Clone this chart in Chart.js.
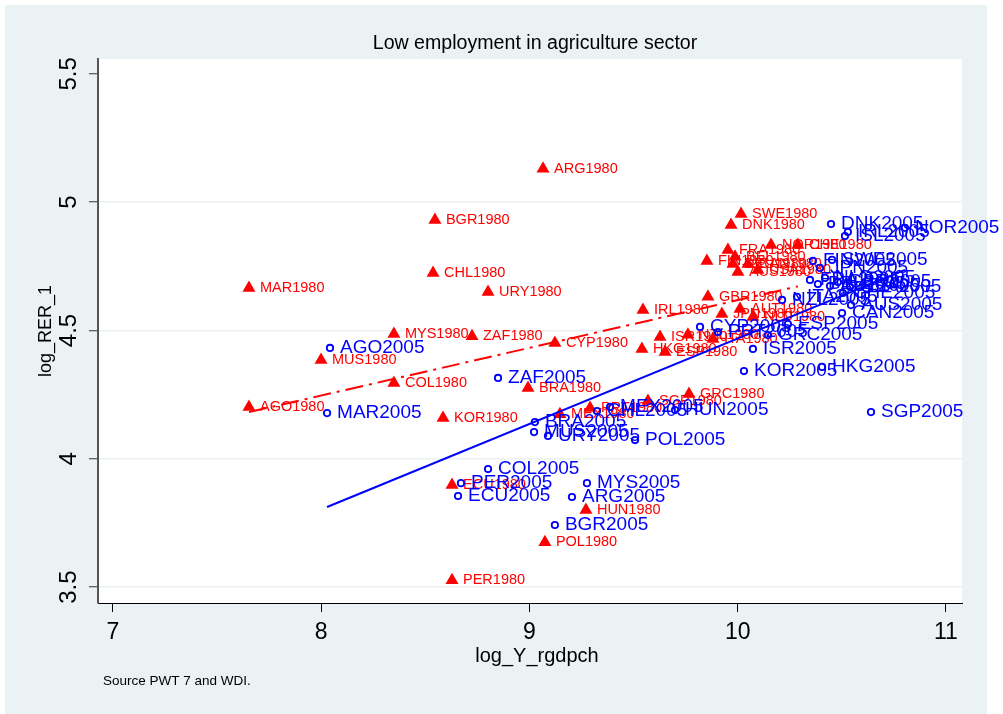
<!DOCTYPE html>
<html>
<head>
<meta charset="utf-8">
<title>Low employment in agriculture sector</title>
<script src="https://cdn.jsdelivr.net/npm/chart.js@4.4.0/dist/chart.umd.min.js"></script>
<style>
  html, body { margin: 0; padding: 0; background: #ffffff; }
  #wrap { width: 1003px; height: 714px; }
</style>
</head>
<body>
<div id="wrap"><canvas id="chart" width="1003" height="714"></canvas></div>
<script>
// Country codes, log real GDP per capita and log real exchange rate, 1980
const codes1980 = ['ARG1980','BGR1980','CHL1980','URY1980','MAR1980','MYS1980','ZAF1980','MUS1980',
  'CYP1980','COL1980','AGO1980','KOR1980','BRA1980','ECU1980','PER1980','POL1980','HUN1980','MEX1980',
  'PRT1980','SGP1980','GRC1980','HKG1980','ESP1980','ISR1980','IRL1980','GBR1980','NZL1980','ITA1980',
  'JPN1980','AUT1980','NLD1980','SWE1980','DNK1980','NOR1980','CHE1980','FRA1980','BEL1980','FIN1980',
  'DEU1980','AUS1980','USA1980','CAN1980'];
const logY1980 = [9.065, 8.546, 8.537, 8.801, 7.653, 8.349, 8.724, 7.999,
  9.122, 8.349, 7.653, 8.585, 8.993, 8.628, 8.628, 9.074, 9.271, 9.146,
  9.291, 9.569, 9.766, 9.540, 9.651, 9.627, 9.545, 9.857, 9.761, 9.881,
  9.924, 10.011, 10.073, 10.016, 9.968, 10.160, 10.289, 9.953, 9.987, 9.852,
  9.977, 10.001, 10.097, 10.049];
const logRER1980 = [5.130, 4.931, 4.724, 4.650, 4.666, 4.486, 4.478, 4.385,
  4.451, 4.295, 4.202, 4.159, 4.276, 3.898, 3.527, 3.675, 3.800, 4.174,
  4.198, 4.225, 4.252, 4.428, 4.416, 4.475, 4.580, 4.631, 4.483, 4.467,
  4.564, 4.584, 4.553, 4.954, 4.911, 4.833, 4.833, 4.814, 4.787, 4.771,
  4.759, 4.728, 4.736, 4.759];

// Same variables, 2005
const codes2005 = ['DNK2005','NOR2005','IRL2005','ISL2005','FIN2005','SWE2005','JPN2005','FRA2005',
  'BEL2005','NLD2005','AUT2005','GBR2005','USA2005','CHE2005','ITA2005','NZL2005','AUS2005','CAN2005',
  'CYP2005','PRT2005','ESP2005','GRC2005','ISR2005','KOR2005','HKG2005','SGP2005','HUN2005','MEX2005',
  'CHL2005','BRA2005','MUS2005','URY2005','POL2005','COL2005','PER2005','ECU2005','MYS2005','ARG2005',
  'BGR2005','ZAF2005','AGO2005','MAR2005'];
const logY2005 = [10.448, 10.803, 10.529, 10.515, 10.361, 10.453, 10.395, 10.347,
  10.385, 10.419, 10.443, 10.481, 10.539, 10.505, 10.285, 10.213, 10.544, 10.501,
  9.819, 9.905, 10.241, 10.145, 10.073, 10.030, 10.405, 10.640, 9.699, 9.387,
  9.324, 9.026, 9.022, 9.089, 9.507, 8.801, 8.671, 8.657, 9.276, 9.204,
  9.122, 8.849, 8.042, 8.028];
const logRER2005 = [4.915, 4.900, 4.884, 4.868, 4.771, 4.775, 4.744, 4.697,
  4.681, 4.705, 4.673, 4.689, 4.670, 4.646, 4.631, 4.619, 4.599, 4.568,
  4.514, 4.494, 4.525, 4.482, 4.428, 4.342, 4.358, 4.182, 4.190, 4.202,
  4.186, 4.143, 4.104, 4.089, 4.073, 3.960, 3.905, 3.855, 3.905, 3.851,
  3.742, 4.315, 4.432, 4.178];

// Fitted values of the linear fits at the ends of each sample
const fit1980X = [7.653, 10.289];
const fit1980Y = [4.182, 4.672];
const fit2005X = [8.028, 10.803];
const fit2005Y = [3.812, 4.736];

// Axis ticks
const xTicks = [7, 8, 9, 10, 11];
const yTicks = [3.5, 4, 4.5, 5, 5.5];

const FONT = "'Liberation Sans', Arial, Helvetica, sans-serif";
const toPoints = (xs, ys) => xs.map((x, i) => ({ x: x, y: ys[i] }));

// Graph region fill and white plot region
const backgroundPlugin = {
  id: 'regionBackground',
  beforeDraw(chart) {
    const { ctx, chartArea: a } = chart;
    ctx.save();
    ctx.fillStyle = '#ffffff';
    ctx.fillRect(0, 0, chart.width, chart.height);
    ctx.fillStyle = '#EAF2F3';
    ctx.fillRect(5, 5, 982, 709);
    ctx.fillStyle = '#ffffff';
    ctx.fillRect(a.left, a.top, a.right - a.left, a.bottom - a.top);
    ctx.restore();
  }
};

// Marker labels, drawn right after each scatter so layering follows dataset order
const markerLabelPlugin = {
  id: 'markerLabels',
  afterDatasetDraw(chart, args) {
    const ds = chart.data.datasets[args.index];
    if (!ds.markerLabels) return;
    const ctx = chart.ctx;
    ctx.save();
    ctx.font = ds.markerLabelFont;
    ctx.fillStyle = ds.markerLabelColor;
    ctx.textAlign = 'left';
    ctx.textBaseline = 'middle';
    args.meta.data.forEach((el, i) => {
      ctx.fillText(ds.markerLabels[i], el.x + ds.markerLabelGap, el.y);
    });
    ctx.restore();
  }
};

// Graph title, x-axis title and source note
const textPlugin = {
  id: 'graphTexts',
  afterDraw(chart) {
    const ctx = chart.ctx;
    ctx.save();
    ctx.fillStyle = '#000000';
    ctx.textBaseline = 'middle';
    ctx.textAlign = 'center';
    ctx.font = '19.6px ' + FONT;
    ctx.fillText('Low employment in agriculture sector', 535, 44);
    ctx.font = '20px ' + FONT;
    ctx.fillText('log_Y_rgdpch', 537, 656);
    ctx.textAlign = 'left';
    ctx.font = '13.5px ' + FONT;
    ctx.fillText('Source PWT 7 and WDI.', 103, 681);
    ctx.restore();
  }
};

new Chart(document.getElementById('chart'), {
  type: 'scatter',
  data: {
    datasets: [
      {
        label: '1980',
        data: toPoints(logY1980, logRER1980),
        pointStyle: 'triangle',
        pointRadius: 7.5,
        pointHoverRadius: 7.5,
        backgroundColor: '#FF0000',
        borderColor: '#FF0000',
        borderWidth: 0,
        order: 4,
        markerLabels: codes1980,
        markerLabelFont: '14.5px ' + FONT,
        markerLabelColor: '#FF0000',
        markerLabelGap: 11
      },
      {
        label: '2005',
        data: toPoints(logY2005, logRER2005),
        pointStyle: 'circle',
        pointRadius: 3.2,
        pointHoverRadius: 3.2,
        backgroundColor: 'rgba(0,0,0,0)',
        borderColor: '#0000FF',
        borderWidth: 1.8,
        order: 3,
        markerLabels: codes2005,
        markerLabelFont: '19px ' + FONT,
        markerLabelColor: '#0000FF',
        markerLabelGap: 10
      },
      {
        type: 'line',
        label: 'Fitted 1980',
        data: toPoints(fit1980X, fit1980Y),
        showLine: true,
        borderColor: '#FF0000',
        borderWidth: 2,
        borderDash: [18, 6, 3, 6],
        pointRadius: 0,
        fill: false,
        order: 2
      },
      {
        type: 'line',
        label: 'Fitted 2005',
        data: toPoints(fit2005X, fit2005Y),
        showLine: true,
        borderColor: '#0000FF',
        borderWidth: 2,
        pointRadius: 0,
        fill: false,
        order: 1
      }
    ]
  },
  options: {
    responsive: false,
    animation: false,
    events: [],
    layout: { padding: { left: 0, top: 59, right: 41, bottom: 0 } },
    plugins: {
      legend: { display: false },
      tooltip: { enabled: false },
      title: { display: false }
    },
    scales: {
      x: {
        type: 'linear',
        min: 6.928,
        max: 11.077,
        afterBuildTicks: s => { s.ticks = xTicks.map(v => ({ value: v })); },
        afterFit: s => { s.height = 111; },
        grid: { drawOnChartArea: false, drawTicks: true, tickLength: 9, tickColor: '#000000', tickWidth: 1 },
        border: { display: true, color: '#000000', width: 1 },
        ticks: {
          color: '#000000',
          font: { family: FONT, size: 23 },
          padding: 7,
          maxRotation: 0,
          autoSkip: false,
          callback: v => String(v)
        },
        title: { display: false }
      },
      y: {
        type: 'linear',
        min: 3.438,
        max: 5.558,
        afterBuildTicks: s => { s.ticks = yTicks.map(v => ({ value: v })); },
        afterFit: s => { s.width = 98; },
        grid: {
          color: c => (c.tick && c.tick.value === 5.5) ? 'rgba(0,0,0,0)' : '#EAF2F3',
          lineWidth: 1.5,
          drawTicks: true,
          tickLength: 9,
          tickColor: '#333333',
          tickWidth: 1
        },
        border: { display: true, color: '#555555', width: 2 },
        ticks: {
          color: '#000000',
          font: { family: FONT, size: 24 },
          padding: 3,
          minRotation: 90,
          maxRotation: 90,
          crossAlign: 'center',
          autoSkip: false,
          callback: v => String(v)
        },
        title: {
          display: true,
          text: 'log_RER_1',
          color: '#000000',
          font: { family: FONT, size: 18 },
          padding: { top: 35, bottom: 0 }
        }
      }
    }
  },
  plugins: [backgroundPlugin, markerLabelPlugin, textPlugin]
});
</script>
</body>
</html>
